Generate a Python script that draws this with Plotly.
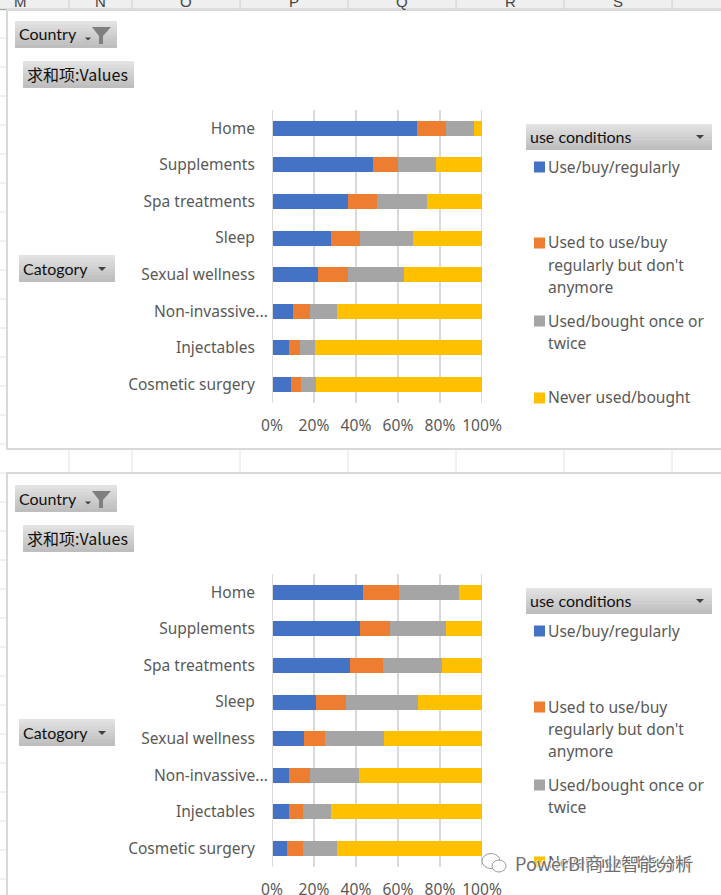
import plotly.graph_objects as go

W, H = 721, 895

categories = ["Home", "Supplements", "Spa treatments", "Sleep", "Sexual wellness",
              "Non-invassive...", "Injectables", "Cosmetic surgery"]
series_names = ["Use/buy/regularly", "Used to use/buy regularly but don't anymore",
                "Used/bought once or twice", "Never used/bought"]
colors = ["#4472C4", "#ED7D31", "#A5A5A5", "#FFC000"]

top_regular = [69.2, 48.2, 36.2, 28.0, 22.0, 10.0, 8.0, 9.0]
top_lapsed = [13.6, 11.8, 13.8, 14.0, 14.0, 8.0, 5.4, 4.8]
top_once = [13.5, 18.2, 24.0, 25.0, 27.0, 13.0, 7.1, 7.2]
top_never = [3.7, 21.8, 26.0, 33.0, 37.0, 69.0, 79.5, 79.0]

bot_regular = [43.4, 42.0, 37.2, 21.0, 15.3, 8.1, 8.1, 7.2]
bot_lapsed = [17.2, 14.3, 15.8, 14.3, 10.0, 10.0, 6.7, 7.6]
bot_once = [28.6, 26.7, 28.0, 34.3, 28.1, 23.4, 13.3, 16.2]
bot_never = [10.8, 17.0, 19.0, 30.4, 46.6, 58.5, 71.9, 69.0]

x_ticks = [0, 20, 40, 60, 80, 100]
col_letters = ["M", "N", "O", "P", "Q", "R", "S"]

fig = go.Figure()
for i, (vals, name) in enumerate(zip([top_regular, top_lapsed, top_once, top_never], series_names)):
    fig.add_trace(go.Bar(y=categories, x=vals, name=name, orientation="h", marker_color=colors[i],
                         marker_line_width=0, xaxis="x", yaxis="y", showlegend=False))
for i, (vals, name) in enumerate(zip([bot_regular, bot_lapsed, bot_once, bot_never], series_names)):
    fig.add_trace(go.Bar(y=categories, x=vals, name=name, orientation="h", marker_color=colors[i],
                         marker_line_width=0, xaxis="x2", yaxis="y2", showlegend=False))

px = lambda x: x / W
py = lambda y: 1 - y / H
shapes, annos = [], []

def rect(x0, y0, x1, y1, fill, line=None, lw=0, layer="below"):
    shapes.append(dict(type="rect", xref="paper", yref="paper", x0=px(x0), x1=px(x1), y0=py(y0), y1=py(y1),
                       fillcolor=fill, line=dict(color=line or fill, width=lw), layer=layer))

def seg(x0, y0, x1, y1, color, lw=1, layer="below"):
    shapes.append(dict(type="line", xref="paper", yref="paper", x0=px(x0), x1=px(x1), y0=py(y0), y1=py(y1),
                       line=dict(color=color, width=lw), layer=layer))

def poly(points, fill, layer="above"):
    path = "M" + " L".join(f"{px(a):.5f},{py(b):.5f}" for a, b in points) + " Z"
    shapes.append(dict(type="path", xref="paper", yref="paper", path=path, fillcolor=fill,
                       line=dict(width=0), layer=layer))

def text(x, y, s, size=15.6, color="#595959", family="Noto Sans", anchor="left", **kw):
    annos.append(dict(xref="paper", yref="paper", x=px(x), y=py(y), text=s, showarrow=False,
                      xanchor=anchor, yanchor="middle", align="left", borderpad=0, borderwidth=0,
                      font=dict(size=size, color=color, family=family, **kw)))

# spreadsheet background
rect(0, 0, W, 9, "#EFEFEF")
seg(0, 9.5, W, 9.5, "#ABABAB", 1.5)
col_edges = [69, 132, 240, 348, 456, 564, 672]
col_centers = [20, 100, 186, 294, 402, 510, 618]
for c in col_edges:
    seg(c, 0, c, 9, "#D0D0D0", 1)
    seg(c, 449, c, 473, "#E2E2E2", 1)
for c, s in zip(col_centers, col_letters):
    text(c, 1, s, size=15, color="#444444", family="Liberation Sans", anchor="center")
for r in range(38, 895, 29):
    seg(0, r, 7, r, "#E2E2E2", 1)

# chart frames
rect(7, 10, 740, 449, "#FFFFFF", "#D9D9D9", 2)
rect(7, 473, 740, 905, "#FFFFFF", "#D9D9D9", 2)

def button(x0, y0, x1, y1):
    bands = 8
    for b in range(bands):
        t = b / (bands - 1)
        g = int(226 + (190 - 226) * t)
        rect(x0, y0 + (y1 - y0) * b / bands, x1, y1, f"rgb({g},{g},{g})")

def arrow(x, y, size=4):
    poly([(x - size, y - size / 2), (x + size, y - size / 2), (x, y + size / 2)], "#404040")

for off in (0, 464):
    button(15, 21 + off, 117, 48 + off)
    text(19, 34 + off, "Country", size=16, color="#111111", family="Lato")
    arrow(88, 39 + off, 3)
    poly([(92, 27 + off), (111, 27 + off), (103, 36 + off), (103, 44 + off), (99, 44 + off), (99, 36 + off)], "#7F7F7F")
    button(23, 61 + off, 134, 88 + off)
    text(27, 73.5 + off, "求和项:Values", size=16, color="#111111", family="Noto Sans CJK SC, Lato")
    button(19, 255 + off, 115, 282 + off)
    text(23, 268 + off, "Catogory", size=16, color="#111111", family="Lato")
    arrow(102, 269 + off, 4)
    button(526, 124 + off, 712, 150 + off)
    text(530, 136.5 + off, "use conditions", size=16, color="#111111", family="Lato")
    arrow(700, 137 + off, 4)
    # legend
    for color, y, lines in zip(colors, [167, 243, 321, 398],
                               [["Use/buy/regularly"],
                                ["Used to use/buy", "regularly but don't", "anymore"],
                                ["Used/bought once or", "twice"],
                                ["Never used/bought"]]):
        rect(534, y + off - 5.5, 545, y + off + 5.5, color, layer="above")
        for k, ln in enumerate(lines):
            text(548, y + off - 0.5 + k * 22, ln)
    # truncated category label hangs further right than the other tick labels
    text(268, 310.5 + off, categories[5], size=15.5, anchor="right")

# axis end lines (0% stays on top of the bars, 100% under them)
for xr, yr in (("x", "y domain"), ("x2", "y2 domain")):
    shapes.append(dict(type="line", xref=xr, yref=yr, x0=x_ticks[0], x1=x_ticks[0], y0=0, y1=1,
                       line=dict(color="#D9D9D9", width=2), layer="above"))
    shapes.append(dict(type="line", xref=xr, yref=yr, x0=x_ticks[-1], x1=x_ticks[-1], y0=0, y1=1,
                       line=dict(color="#D9D9D9", width=2), layer="below"))

# watermark
for cx, cy, rx, ry in [(491, 861, 9, 7.5), (499, 866, 7, 6)]:
    shapes.append(dict(type="circle", xref="paper", yref="paper", x0=px(cx - rx), x1=px(cx + rx),
                       y0=py(cy - ry), y1=py(cy + ry), fillcolor="rgba(255,255,255,0.85)",
                       line=dict(color="#9A9A9A", width=1), layer="above"))
text(515, 863, "PowerBI商业智能分析", size=18, color="#6E6E6E", family="Noto Sans CJK SC",
     shadow="1px 1px 1px #ffffff, -1px -1px 1px #ffffff")

y_labels = [c if c != categories[5] else " " for c in categories]

axis_x = dict(range=[0, 100], tickvals=x_ticks, ticktext=[f"{v}%" for v in x_ticks], showgrid=True,
              gridcolor="#D9D9D9", gridwidth=2, zeroline=False, showline=False, ticks="outside",
              ticklen=9, tickcolor="rgba(0,0,0,0)", tickfont=dict(size=15.6, color="#595959", family="Noto Sans"),
              fixedrange=True, domain=[272 / W, 482 / W])
axis_y = dict(type="category", autorange="reversed", showgrid=False, zeroline=False, showline=False,
              ticks="outside", ticklen=13, tickcolor="rgba(0,0,0,0)",
              tickmode="array", tickvals=categories, ticktext=y_labels,
              tickfont=dict(size=15.5, color="#595959", family="Noto Sans"), fixedrange=True)

fig.update_layout(
    width=W, height=H, autosize=False, margin=dict(l=0, r=0, t=0, b=0, pad=0, autoexpand=False),
    paper_bgcolor="#FFFFFF", plot_bgcolor="rgba(0,0,0,0)", barmode="stack", bargap=0.59,
    showlegend=False, shapes=shapes, annotations=annos,
    xaxis=dict(axis_x, anchor="y"),
    yaxis=dict(axis_y, anchor="x", domain=[py(402.6), py(110)]),
    xaxis2=dict(axis_x, anchor="y2"),
    yaxis2=dict(axis_y, anchor="x2", domain=[py(866.6), py(574)]),
)

fig.write_html("out.html", config={"displayModeBar": False},
               post_script="document.body.style.margin='0';document.body.style.overflow='hidden';")
